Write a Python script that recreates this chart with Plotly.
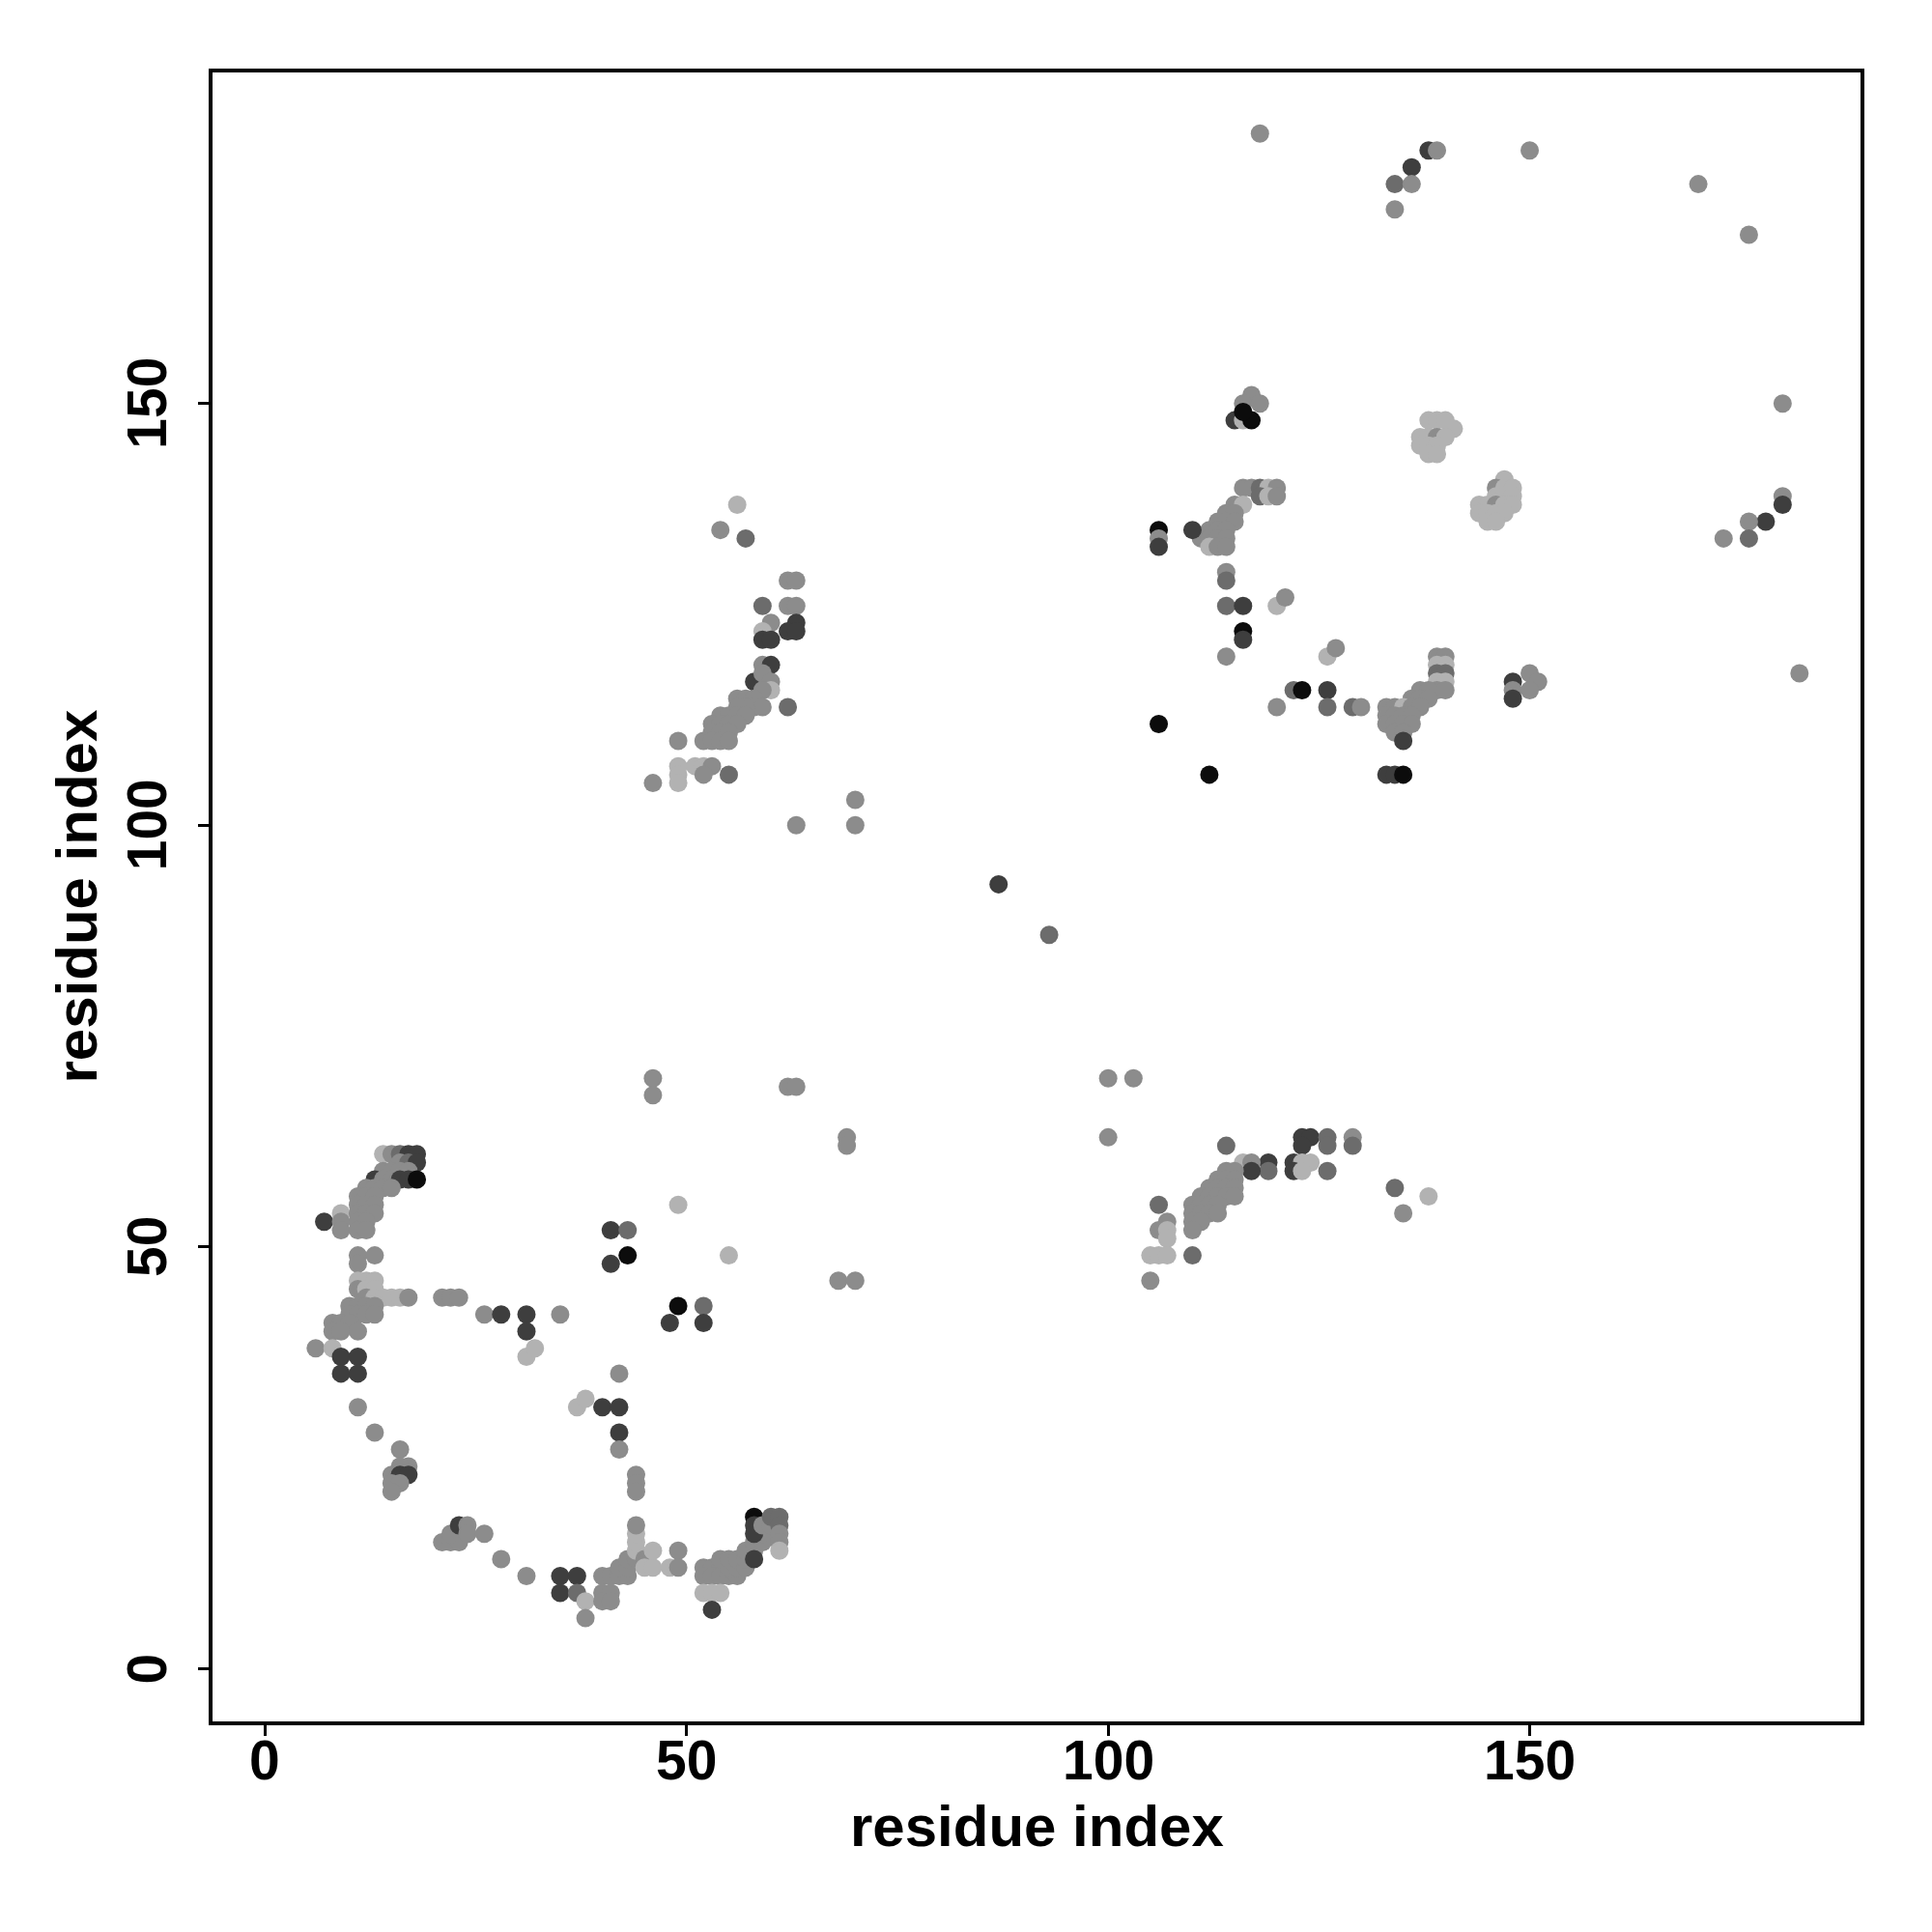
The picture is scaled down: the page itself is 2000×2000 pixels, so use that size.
import plotly.graph_objects as go

# shade codes -> grey level
SHADES = {"K": 12, "D": 62, "M": 108, "G": 140, "L": 178}

# ---- contact points (residue i, residue j, shade) ----
res_x = [
    # lower-left strip
    14,15,16,17,18, 16,17,18, 14,15,16,17, 13,14,15,16,17,18, 12,13,14,15, 11,12,13, 11,12,13,
    9,11,12,13, 7,9,11,12, 9,11,12, 11,13, 11, 11,12,13, 11,12,13, 12,13,14,15,16,17, 21,22,23,
    10,11,12,13, 10,11,12,13, 8,9,10, 8,9,11, 6,8, 9,11, 9,11, 11,
    13,16, 17,16,15,16,17,15,16,15,
    21,22,23,22,23,24,24,26, 28,31,
    35,37,35,37,38,38, 40,41,42,43, 40,41,40,41,
    42,43,43,44,44,45,45,46,46,44,44,44, 44,44,44,
    42,42,40,42,37,38, 42, 49,48,49,
    26,28,31,31,31,32,35, 49,48,52,52, 41,43,41,43, 49,55,
    46,46,62,63,69,69,68,70,
    52,53,54,52,53,54,55,56,55,56,54,55,56,57,57,57,58,58,59,59,60,
    52,53,54,53, 58,58,58,58, 59,60,60,61,61,61,61,61,
    # upper-middle cluster
    56,54,57, 62,63,59,62,63, 63,62,63,60,59,59,60, 59,60,58,59,60,60,59,62,
    56,57,58,58,59,57,56, 54,55,56,57, 53,54,55,56, 53,54,55, 52,53,54,55, 49,
    49,49,49,51,52,53,52,55, 46,70,63,70,
    # middle
    87,93,
    # lower-right cluster
    100,114,123,124,126,129, 123,126,129, 122,123,124,122,123,126, 119,119,116,117,117,
    114,115,113,114,115,112,113,114,115,111,112,113,114,115,110,111,112,113,110,111,112,113,110,111,110,
    106,107,106,107,107,105,106,107,110,105, 134,135,138, 100,103,
    # upper-right cluster
    117,116,118,115,116,117,116,
    116,117,118,119,120,118,119,120,
    115,116,114,115,113,114,115,112,113,114,111,112,113,114,112,113,114,
    110,106,106,106, 114,114,114,116,120,121, 116,116,114,126,127,
    122,123,126,120,126,129,130, 106,112, 133,134,135,
    139,140,139,140,139,140,139,140,139,140,137,138,136,137,138,133,134,135,136,137,
    133,134,135,136,133,134,135,136,134,135,135,
    148,148,148,150,151,150,
    138,139,140,141,137,138,139,140,137,138,139,138,139,
    147,146,147,148,146,147,148,144,145,146,147,148,144,145,146,147,145,146,
    # top and right edge
    118,138,139,136,134,136,134,150,170,176,
    180,180,180,178,176,176,173,182,
]

res_y = [
    61,61,61,61,61, 60,60,60, 59,59,59,59, 58,58,58,58,58,58, 57,57,57,57, 56,56,56, 55,55,55,
    54,54,54,54, 53,53,53,53, 52,52,52, 49,49, 48, 46,46,46, 45,45,45, 44,44,44,44,44,44, 44,44,44,
    43,43,43,43, 42,42,42,42, 41,41,41, 40,40,40, 38,38, 37,37, 35,35, 31,
    28,26, 24,24,23,23,23,22,22,21,
    15,15,15,16,17,17,16,16, 13,11,
    11,11,9,9,8,6, 11,11,11,11, 9,9,8,8,
    12,12,13,13,14,13,12,12,14,15,16,17, 23,22,21,
    28,26,31,31,31,32, 35, 14,12,12,
    42,42,42,40,37,38,42, 43,41,43,41, 52,52,48,49, 55,49,
    70,68,69,69,63,62,46,46,
    12,12,12,11,11,11,11,11,12,12,13,13,13,12,13,14,14,15,15,16,16,
    9,9,9,7, 18,17,16,13, 17,17,18,18,17,16,15,14,
    138,135,134, 129,129,126,126,126, 124,123,123,124,123,122,122, 119,119,117,118,117,116,116,114,
    115,115,115,114,114,114,114, 113,113,113,113, 112,112,112,112, 111,111,111, 110,110,110,110, 110,
    107,106,105,107,107,107,106,106, 105,103,100,100,
    93,87,
    63,62,63,63,63,63, 62,62,62, 60,60,60,59,59,59, 60,59,60,60,59,
    59,59,58,58,58,57,57,57,57,56,56,56,56,56,55,55,55,55,54,54,54,54,53,53,52,
    55,53,52,52,51,49,49,49,49,46, 57,54,56, 70,70,
    151,150,150,148,148,148,149,
    140,140,140,140,140,139,139,139,
    138,138,137,137,136,136,136,135,135,135,134,134,134,134,133,133,133,
    135,135,134,133, 130,129,126,126,126,127, 123,122,120,120,121,
    116,116,116,114,114,114,114, 112,106, 106,106,106,
    120,120,119,119,118,118,117,117,116,116,116,116,115,115,115,114,114,114,114,114,
    113,113,113,113,112,112,112,112,111,111,110,
    117,116,115,118,117,116,
    148,148,148,147,146,146,146,146,145,145,145,144,144,
    141,140,140,140,139,139,139,138,138,138,138,138,137,137,137,137,136,136,
    182,180,180,178,176,176,173,180,176,170,
    150,139,138,136,136,134,134,118,
]

shade = list(
    "LGMDD" "GMD" "GGGG" "DGGDDK" "GGGG" "GGG" "GGG"
    "LGGG" "DGGG" "GGG" "GG" "G" "LLL" "GLL" "GLLLLG" "GGG"
    "GGGG" "GGGG" "GGG" "GGG" "GL" "DD" "DD" "G"
    "GG" "GGGDDGGG"
    "GGGGDGGG" "GG"
    "DDDMLG" "GGGG" "GGGG"
    "GGGGLGLLLLLG" "GGG"
    "DGDDLL" "G" "GLG"
    "GDDDLLG" "KDMD" "DMDK" "LL"
    "GGGGGGGG"
    "GGGGGGGGGGGGGGGGGGGGG"
    "LLLD" "KDDD" "GGMMMGGL"
    "LGM" "GGMGG" "DDDGLDD" "GDDGGLGM"
    "GGGGGGG" "GGGG" "GGGG" "GGG" "GGGG" "G"
    "LLLLLGGM" "GGGG"
    "DM"
    "GMDDMG" "DMM" "DLLDLM" "DMLGD"
    "GGGGGGGGGGGGGGGGGGGGGGGGG"
    "MGGLLLLLMG" "MGL" "GG"
    "GGGDLKK"
    "GGMLGMLG"
    "GLGGGGGGGGGGGGLGG"
    "DKGD" "GMMDLG" "KDGLG"
    "MKDGMMG" "KK" "DDK"
    "GGLLMMLLGGGGGGGGGLGG"
    "GGGGGGGGGGD"
    "DGDGGG"
    "LLLLLLGLLLLLL"
    "LGLLLLLLLGLLLLLLLL"
    "GDGDMGGGGG"
    "GGDDGMGG"
)

x_ticks = [0, 50, 100, 150]
y_ticks = [0, 50, 100, 150]
axis_title = "residue index"

n = min(len(res_x), len(res_y), len(shade))
colors = [f"rgb({SHADES[s]},{SHADES[s]},{SHADES[s]})" for s in shade[:n]]

FONT = "Liberation Sans, Arial, sans-serif"
tick_font = dict(family=FONT, size=57, color="black", weight="bold")
title_font = dict(family=FONT, size=60, color="black", weight="bold")

fig = go.Figure()
fig.add_trace(go.Scatter(
    x=res_x[:n], y=res_y[:n], mode="markers",
    marker=dict(size=19, color=colors, line=dict(width=0), opacity=1),
    hoverinfo="skip", showlegend=False,
))

axis_common = dict(
    showgrid=False, zeroline=False, showline=True, linecolor="black", linewidth=4,
    mirror=True, ticks="outside", ticklen=11, tickwidth=3, tickcolor="black",
    showticklabels=False, range=[-6.24, 189.24], fixedrange=True,
)

annotations = []
for v in x_ticks:
    annotations.append(dict(text=str(v), xref="x", yref="paper", x=v, y=0,
                            xanchor="center", yanchor="middle", yshift=-40,
                            showarrow=False, font=tick_font))
for v in y_ticks:
    annotations.append(dict(text=str(v), xref="paper", yref="y", x=0, y=v,
                            xanchor="center", yanchor="middle", xshift=-68,
                            textangle=-90, showarrow=False, font=tick_font))
annotations.append(dict(text=axis_title, xref="paper", yref="paper", x=0.5, y=0,
                        xanchor="center", yanchor="middle", yshift=-108,
                        showarrow=False, font=title_font))
annotations.append(dict(text=axis_title, xref="paper", yref="paper", x=0, y=0.5,
                        xanchor="center", yanchor="middle", xshift=-141,
                        textangle=-90, showarrow=False, font=title_font))

fig.update_layout(
    width=2000, height=2000,
    paper_bgcolor="white", plot_bgcolor="white",
    margin=dict(l=212, r=82, t=67, b=226, autoexpand=False),
    xaxis=dict(**axis_common, tickvals=x_ticks),
    yaxis=dict(**axis_common, tickvals=y_ticks),
    annotations=annotations,
)

fig.write_html("out.html")
